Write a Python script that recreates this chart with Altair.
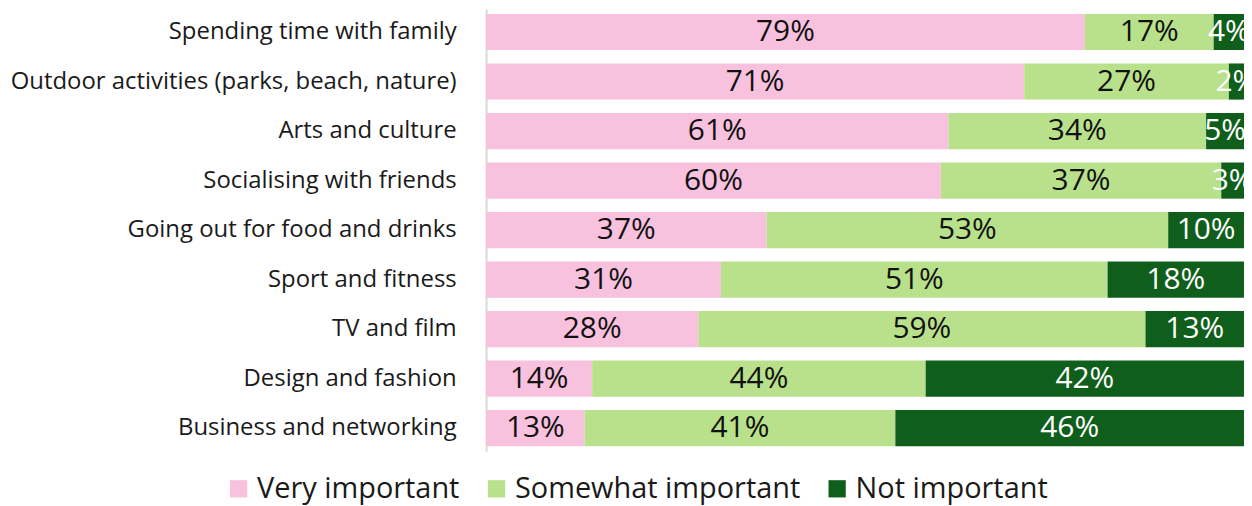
import altair as alt
import pandas as pd

categories = [
    "Spending time with family",
    "Outdoor activities (parks, beach, nature)",
    "Arts and culture",
    "Socialising with friends",
    "Going out for food and drinks",
    "Sport and fitness",
    "TV and film",
    "Design and fashion",
    "Business and networking",
]
series = ["Very important", "Somewhat important", "Not important"]
very = [79, 71, 61, 60, 37, 31, 28, 14, 13]
somewhat = [17, 27, 34, 37, 53, 51, 59, 44, 41]
not_imp = [4, 2, 5, 3, 10, 18, 13, 42, 46]
colors = ["#f8c1de", "#b9e18b", "#0f5e1b"]
text_colors = ["#111111", "#111111", "#ffffff"]

rows = []
for i, c in enumerate(categories):
    for j, (s, vals) in enumerate(zip(series, [very, somewhat, not_imp])):
        rows.append({"cat": c, "series": s, "value": vals[i], "ord": j,
                     "label": f"{vals[i]}%"})
df = pd.DataFrame(rows)

FONT = "Open Sans"

base = alt.Chart(df).transform_stack(
    stack="value", groupby=["cat"], as_=["x0", "x1"],
    sort=[alt.SortField("ord", order="ascending")]
).transform_calculate(mid="(datum.x0 + datum.x1) / 2")

yenc = alt.Y("cat:N", sort=categories, title=None,
             scale=alt.Scale(paddingInner=0.27, paddingOuter=0.1),
             axis=alt.Axis(labelFont=FONT, labelFontSize=24, labelColor="#1a1a1a",
                           labelPadding=30, ticks=False, domainColor="#d9d9d9",
                           domainWidth=2, labelLimit=520))
xscale = alt.Scale(domain=[0, 100])

bars = base.mark_bar().encode(
    y=yenc,
    x=alt.X("x0:Q", scale=xscale, axis=None),
    x2="x1:Q",
    color=alt.Color("series:N", sort=series,
                    scale=alt.Scale(domain=series, range=colors),
                    legend=alt.Legend(title=None, orient="none", direction="horizontal",
                                      legendX=-263, legendY=467,
                                      symbolType="square", symbolSize=300,
                                      symbolStrokeWidth=0,
                                      labelFont=FONT, labelFontSize=29,
                                      labelColor="#1a1a1a", columnPadding=22,
                                      labelOffset=4, labelLimit=400)),
)

texts = base.mark_text(font=FONT, fontSize=30, clip=True, align="center",
                       baseline="middle").encode(
    y=alt.Y("cat:N", sort=categories),
    x=alt.X("mid:Q", scale=xscale),
    text="label:N",
    color=alt.Color("series:N", scale=alt.Scale(domain=series, range=text_colors),
                    legend=None),
)

chart = alt.layer(bars, texts).resolve_scale(color="independent").properties(
    width=761, height=444,
    autosize=alt.AutoSizeParams(type="none"),
    padding={"left": 480, "top": 0, "right": 0, "bottom": 54},
).configure_view(stroke=None)

chart.save("out.html", embed_options={"renderer": "svg", "actions": False})
